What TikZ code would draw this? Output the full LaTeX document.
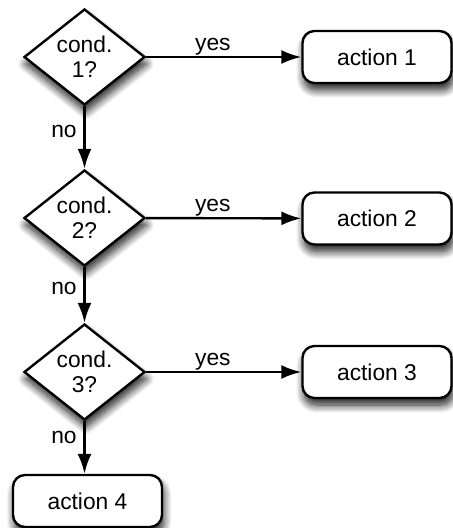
\documentclass[tikz,border=0pt]{standalone}
\usepackage{fontspec}
\setmainfont{Liberation Sans}
\usetikzlibrary{shapes.geometric,arrows.meta,shadows.blur}

\tikzset{
  shade below/.style={blur shadow={shadow xshift=0.8pt,shadow yshift=-3.5pt,
    shadow blur radius=4pt,shadow blur steps=12,shadow opacity=90}},
  cond/.style={draw,fill=white,diamond,aspect=1.26,inner sep=0pt,
    minimum width=60.5pt,minimum height=48pt,align=center,shade below},
  act/.style={draw,fill=white,rounded corners=6pt,
    minimum width=74.5pt,minimum height=26pt,shade below},
}

\begin{document}
\begin{tikzpicture}[->,>={Latex[length=10pt,width=7pt]},line width=1.2pt,x=0.5pt,y=-0.5pt,
  font=\fontsize{11.4}{12.5}\selectfont]

\useasboundingbox (0,0) rectangle (452,528);

\node[cond] (c1) at (84.5,57) {cond.\\1?};
\node[cond] (c2) at (84.5,218) {cond.\\2?};
\node[cond] (c3) at (84.5,372) {cond.\\3?};

\node[act] (a1) at (377,57) {action 1};
\node[act] (a2) at (377,218.5) {action 2};
\node[act] (a3) at (377,372) {action 3};
\node[act] (a4) at (87.5,501) {action 4};

\draw (c1) -- node[pos=0.43,above,inner sep=0.5pt] {yes} (a1);
\draw (c2) -- node[pos=0.43,above,inner sep=0.5pt] {yes} (a2);
\draw (c3) -- node[pos=0.43,above,inner sep=0.5pt] {yes} (a3);

\draw (c1) -- node[pos=0.4,left] {no} (c2);
\draw (c2) -- node[pos=0.38,left] {no} (c3);
\draw (c3.south) -- node[pos=0.3,left] {no} (c3.south |- a4.north);

\end{tikzpicture}
\end{document}
